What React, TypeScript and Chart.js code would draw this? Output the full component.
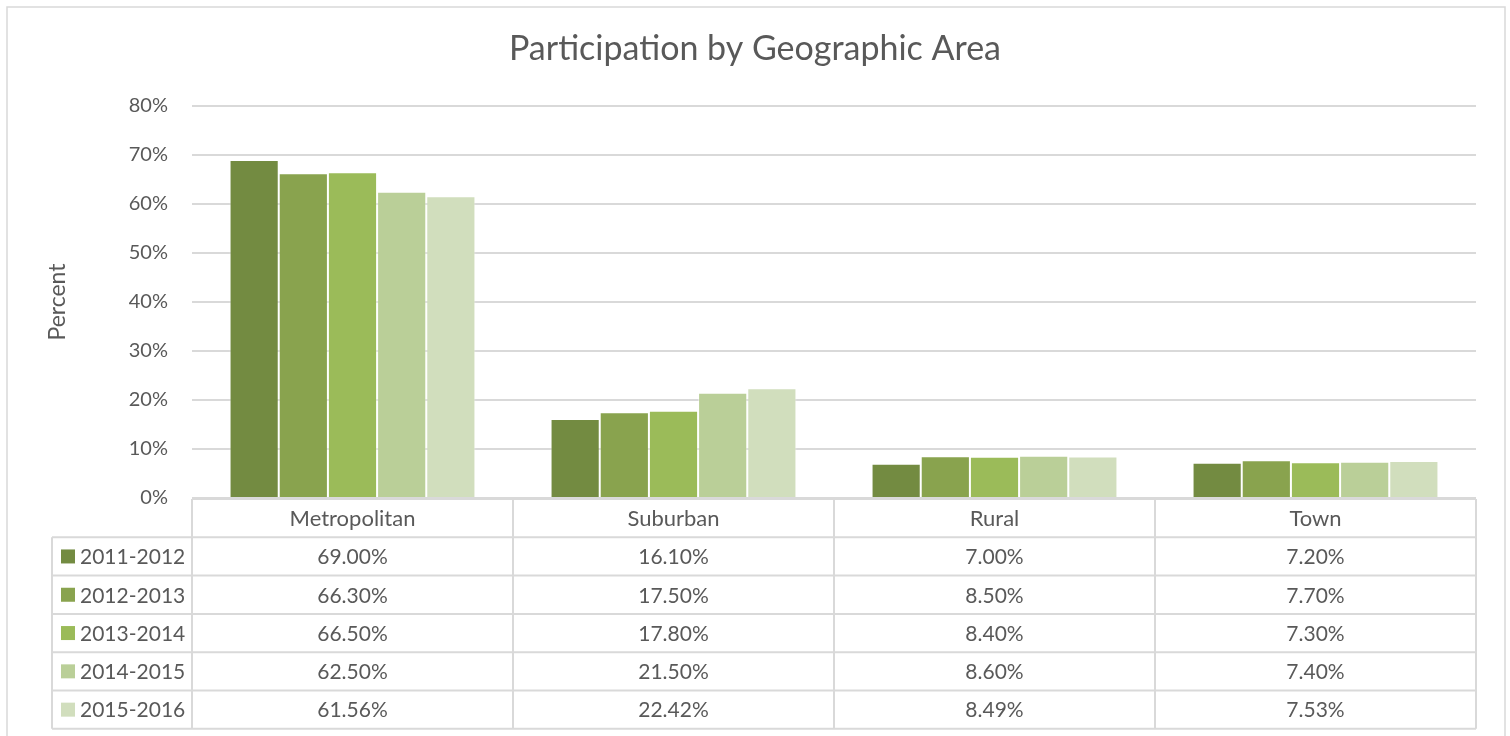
import React, { useEffect, useRef } from "react";
import { Chart, registerables } from "chart.js";

Chart.register(...registerables);

const titleText = "Participation by Geographic Area";
const categories = ["Metropolitan", "Suburban", "Rural", "Town"];
const seriesLabels = ["2011-2012", "2012-2013", "2013-2014", "2014-2015", "2015-2016"];
const s2011 = [69.0, 16.1, 7.0, 7.2];
const s2012 = [66.3, 17.5, 8.5, 7.7];
const s2013 = [66.5, 17.8, 8.4, 7.3];
const s2014 = [62.5, 21.5, 8.6, 7.4];
const s2015 = [61.56, 22.42, 8.49, 7.53];
const seriesValues = [s2011, s2012, s2013, s2014, s2015];
const seriesColors = ["#738B41", "#89A34E", "#9BBB59", "#BACF98", "#D1DEBD"];
const yMax = 80;
const yStep = 10;

const FONT = "Lato";
const TEXT = "#595959";
const LINE = "#D9D9D9";

const framePlugin = {
  id: "frame",
  beforeDraw(chart: any) {
    const ctx = chart.ctx;
    ctx.save();
    ctx.fillStyle = "#ffffff";
    ctx.fillRect(0, 0, chart.width, chart.height);
    ctx.strokeStyle = LINE;
    ctx.lineWidth = 1.5;
    ctx.strokeRect(7, 7, 1498, 800);
    ctx.restore();
  },
  afterDraw(chart: any) {
    const ctx = chart.ctx;
    ctx.save();
    ctx.fillStyle = TEXT;
    ctx.font = `34px ${FONT}`;
    ctx.textAlign = "center";
    ctx.textBaseline = "middle";
    ctx.fillText(titleText, chart.width / 2, 49);
    ctx.restore();
  },
};

const tablePlugin = {
  id: "dataTable",
  afterDraw(chart: any) {
    const ctx = chart.ctx;
    const area = chart.chartArea;
    const xs = chart.scales.x;
    const left = area.left;
    const right = area.right;
    const colW = (right - left) / categories.length;
    const top = area.bottom + 1;
    const rowH = 38.3;
    const tableLeft = 52;
    const nRows = seriesLabels.length + 1;
    const bottom = top + nRows * rowH;

    ctx.save();
    ctx.strokeStyle = LINE;
    ctx.lineWidth = 2;
    ctx.beginPath();
    ctx.moveTo(left, top);
    ctx.lineTo(right, top);
    for (let r = 1; r <= nRows; r++) {
      const y = top + r * rowH;
      ctx.moveTo(tableLeft, y);
      ctx.lineTo(right, y);
    }
    for (let k = 0; k <= categories.length; k++) {
      const x = left + k * colW;
      ctx.moveTo(x, top);
      ctx.lineTo(x, bottom);
    }
    ctx.moveTo(tableLeft, top + rowH);
    ctx.lineTo(tableLeft, bottom);
    ctx.stroke();

    ctx.fillStyle = TEXT;
    ctx.textBaseline = "middle";
    ctx.textAlign = "center";
    ctx.font = `22px ${FONT}`;
    categories.forEach((c, i) => {
      ctx.fillText(c, xs.getPixelForValue(i), top + rowH / 2 + 1);
    });
    ctx.font = `21px ${FONT}`;
    seriesLabels.forEach((lab, s) => {
      const cy = top + (s + 1) * rowH + rowH / 2 + 1;
      ctx.fillStyle = seriesColors[s];
      ctx.fillRect(61, cy - 8, 14, 14);
      ctx.fillStyle = TEXT;
      ctx.textAlign = "left";
      ctx.fillText(lab, 80, cy);
      ctx.textAlign = "center";
      seriesValues[s].forEach((v, i) => {
        ctx.fillText(v.toFixed(2) + "%", xs.getPixelForValue(i), cy);
      });
    });
    ctx.restore();
  },
};

export default function App() {
  const ref = useRef<HTMLCanvasElement>(null);
  useEffect(() => {
    if (!ref.current) return;
    const chart = new Chart(ref.current, {
      type: "bar",
      data: {
        labels: categories,
        datasets: seriesLabels.map((l, i) => ({
          label: l,
          data: seriesValues[i],
          backgroundColor: seriesColors[i],
          borderColor: "rgba(255,255,255,0.45)",
          borderWidth: 1,
          categoryPercentage: 0.766,
          barPercentage: 1,
        })),
      },
      plugins: [framePlugin, tablePlugin],
      options: {
        responsive: false,
        animation: false,
        layout: { padding: { left: 0, right: 34, top: 106, bottom: 238 } },
        plugins: {
          legend: { display: false },
          tooltip: { enabled: false },
          title: { display: false },
        },
        scales: {
          x: { display: false },
          y: {
            min: 0,
            max: yMax,
            afterFit(scale: any) {
              scale.width = 192;
            },
            ticks: {
              stepSize: yStep,
              color: TEXT,
              font: { family: FONT, size: 20 },
              padding: 24,
              callback: (v: any) => v + "%",
            },
            grid: { color: LINE, lineWidth: 2, drawTicks: false },
            border: { display: false },
            title: {
              display: true,
              text: "Percent",
              color: TEXT,
              font: { family: FONT, size: 23 },
              padding: { top: 44, bottom: 0 },
            },
          },
        },
      },
    });
    return () => chart.destroy();
  }, []);
  return (
    <div style={{ position: "absolute", left: 0, top: 0, width: 1510, height: 736 }}>
      <canvas ref={ref} width={1510} height={736} style={{ display: "block" }} />
    </div>
  );
}
